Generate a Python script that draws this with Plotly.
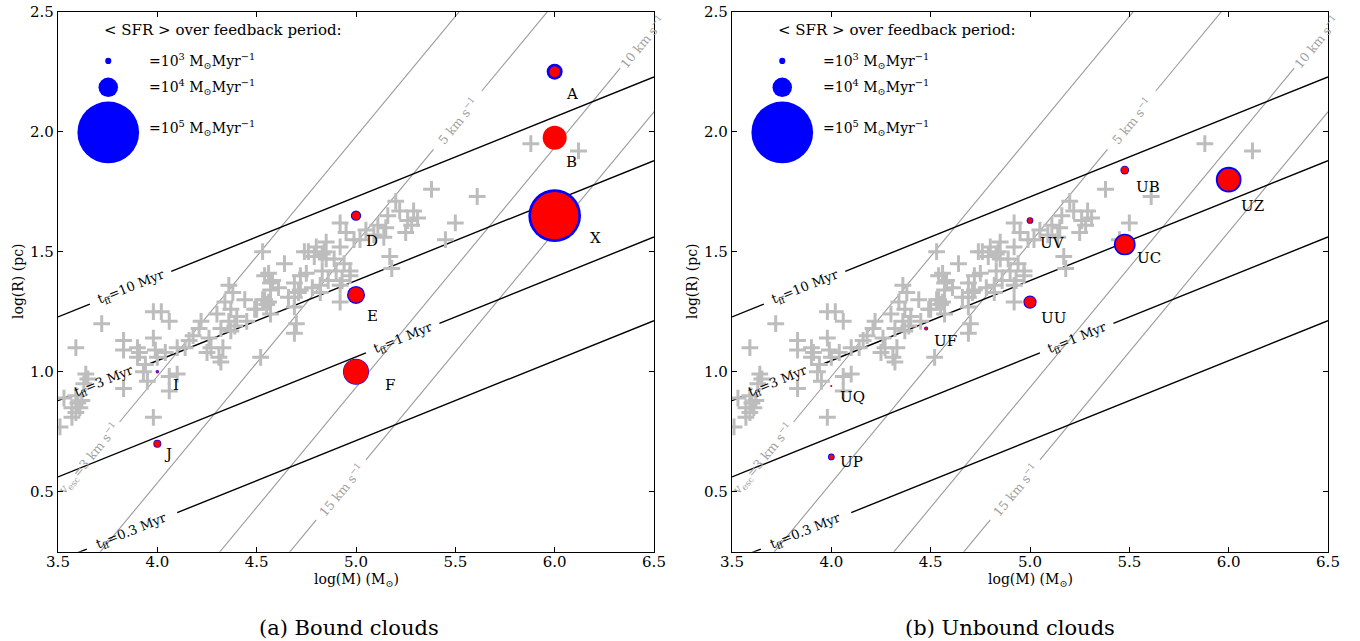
import numpy as np
import plotly.graph_objects as go

# observed clouds (grey crosses), same in both panels
cross_logm = [3.53, 3.57, 3.59, 3.60, 3.62, 3.59, 3.61, 3.57, 3.64, 3.65, 3.63, 3.59, 3.72, 3.51,
              3.83, 3.83, 3.90, 3.91, 3.90, 3.98, 4.02, 4.06, 3.98, 3.99, 4.00, 4.04, 3.94, 3.93,
              3.95, 4.06, 4.10, 4.06, 3.83, 3.98, 4.14, 4.10, 4.16, 4.18, 4.21, 4.22, 4.26, 4.27,
              4.25, 4.31, 4.33, 4.32, 4.30, 4.32, 4.34, 4.36, 4.36, 4.37, 4.37, 4.38, 4.39, 4.40,
              4.44, 4.45, 4.49, 4.54, 4.56, 4.52, 4.56, 4.57, 4.61, 4.64, 4.66, 4.69, 4.72, 4.69,
              4.70, 4.53, 4.72, 4.71, 4.78, 4.75, 4.54, 4.58, 4.57, 4.53, 4.55, 4.50, 4.57, 4.69,
              4.82, 4.76, 4.80, 4.84, 4.79, 4.85, 4.94, 4.97, 4.90, 4.93, 4.82, 4.92, 4.95, 4.99,
              4.92, 4.85, 4.89, 4.97, 4.86, 4.92, 4.69, 4.83, 4.74, 4.83, 4.92, 5.02, 5.05, 5.09,
              5.11, 5.14, 5.15, 5.16, 5.20, 5.22, 5.25, 5.28, 5.29, 5.31, 5.26, 5.17, 5.18, 5.38,
              5.61, 5.50, 5.45, 5.88, 6.12]
cross_logr = [0.89, 0.85, 0.90, 0.87, 0.88, 0.83, 0.85, 0.81, 0.99, 0.97, 0.95, 1.10, 1.20, 0.77,
              1.13, 1.09, 1.10, 1.08, 1.06, 1.25, 1.25, 1.21, 1.14, 1.09, 1.06, 1.08, 1.03, 1.00,
              0.96, 0.98, 0.99, 0.92, 0.93, 0.81, 1.10, 1.10, 1.13, 1.15, 1.18, 1.21, 1.14, 1.10,
              1.08, 1.06, 1.10, 1.04, 1.24, 1.18, 1.29, 1.21, 1.36, 1.17, 1.26, 1.33, 1.19, 1.23,
              1.30, 1.21, 1.26, 1.30, 1.29, 1.06, 1.41, 1.37, 1.35, 1.45, 1.31, 1.31, 1.40, 1.16,
              1.20, 1.50, 1.34, 1.33, 1.35, 1.41, 1.40, 1.38, 1.34, 1.30, 1.28, 1.26, 1.24, 1.27,
              1.33, 1.50, 1.52, 1.50, 1.48, 1.47, 1.45, 1.42, 1.42, 1.38, 1.36, 1.62, 1.58, 1.55,
              1.29, 1.54, 1.47, 1.40, 1.38, 1.36, 1.37, 1.49, 1.50, 1.42, 1.52, 1.55, 1.59, 1.57,
              1.61, 1.56, 1.60, 1.65, 1.71, 1.67, 1.58, 1.61, 1.67, 1.64, 1.63, 1.48, 1.43, 1.76,
              1.73, 1.62, 1.55, 1.95, 1.92]

# simulated bound clouds
bound_names = ["A", "B", "X", "D", "E", "F", "I", "J"]
bound_logm = [6.0, 6.0, 6.0, 5.0, 5.0, 5.0, 4.0, 4.0]
bound_logr = [2.25, 1.975, 1.65, 1.65, 1.32, 1.0, 1.0, 0.70]
bound_sfr_blue = [6700, 12700, 73000, 2800, 8500, 17800, 320, 1700]
bound_sfr_red = [3000, 15200, 58800, 1800, 6300, 16400, 160, 1100]

# simulated unbound clouds
unbound_names = ["UB", "UZ", "UV", "UC", "UU", "UF", "UQ", "UP"]
unbound_logm = [5.477, 6.0, 5.0, 5.477, 5.0, 4.477, 4.0, 4.0]
unbound_logr = [1.84, 1.80, 1.63, 1.53, 1.29, 1.18, 0.94, 0.645]
unbound_sfr_blue = [2000, 17400, 1180, 12400, 4650, 420, 60, 1180]
unbound_sfr_red = [1300, 12400, 660, 9000, 3360, 240, 105, 660]

legend_sfr = [1e3, 1e4, 1e5]
legend_labels = ["=10<sup>3</sup> M<sub>⊙</sub>Myr<sup>−1</sup>",
                 "=10<sup>4</sup> M<sub>⊙</sub>Myr<sup>−1</sup>",
                 "=10<sup>5</sup> M<sub>⊙</sub>Myr<sup>−1</sup>"]

tff_myr = [10, 3, 1, 0.3]
vesc_kms = [3, 5, 10, 15]

G_MYR = 4.50e-3   # pc^3 Msun^-1 Myr^-2
G_KMS = 4.301e-3  # pc (km/s)^2 Msun^-1

# label placement (layout only)
tff_label_x = [3.868, 3.735, 5.237, 3.87]
tff_gaps = [(3.66, 4.07), (3.555, 3.93), (5.05, 5.42), (3.645, 4.10)]
vesc_label_x = [3.655, 5.51, 6.44, 4.925]
vesc_gaps = [(3.3, 3.81), (5.39, 5.633), (6.33, 7.0), (4.80, 5.05)]
bound_offsets = [(17, 22), (17, 24), (41, 22), (16, 25), (16, 21), (34, 13), (19, 13), (11, 10)]
unbound_offsets = [(23, 17), (24, 26), (22, 22), (24, 13), (23, 16), (19, 12), (21, 11), (20, 5)]

SERIF = "DejaVu Serif"
W, H = 1360, 641
K_SIZE = 0.195  # marker diameter (px) per sqrt(SFR)


def px2paper(px, py):
    return px / W, 1 - py / H


def tff_logr(logm, t):
    return (np.asarray(logm) + 2 * np.log10(t) + np.log10(32 * G_MYR / (3 * np.pi))) / 3.0


def vesc_logr(logm, v):
    return np.asarray(logm) + np.log10(2 * G_KMS) - 2 * np.log10(v)


def sizes(sfr):
    return [K_SIZE * np.sqrt(s) for s in sfr]


def gapped(x0, x1, gap):
    xs = []
    if gap[0] > x0:
        xs += [x0, gap[0], None]
    if gap[1] < x1:
        xs += [gap[1], x1]
    return xs


def eval_line(xs, f, p):
    return [None if x is None else float(f(x, p)) for x in xs]


fig = go.Figure()
annotations = []

# pixel aspect -> text angles
px_x = (654 - 58) / 3.0
px_y = (551.7 - 11.7) / 2.25
ang_tff = np.degrees(np.arctan(px_y / (3 * px_x)))
ang_v = np.degrees(np.arctan(px_y / px_x))

panels = [
    ("x", "y", bound_names, bound_logm, bound_logr, bound_sfr_blue, bound_sfr_red, bound_offsets),
    ("x2", "y2", unbound_names, unbound_logm, unbound_logr, unbound_sfr_blue, unbound_sfr_red, unbound_offsets),
]

for xa, ya, names, lm, lr, sb, sr, offs in panels:
    # escape velocity lines
    for v, lx, gap in zip(vesc_kms, vesc_label_x, vesc_gaps):
        xs = gapped(3.0, 7.0, gap)
        fig.add_trace(go.Scatter(x=xs, y=eval_line(xs, vesc_logr, v), mode="lines",
                                 line=dict(color="#9a9a9a", width=1.1), xaxis=xa, yaxis=ya,
                                 showlegend=False, hoverinfo="skip"))
        txt = f"{v} km s<sup>−1</sup>"
        if v == vesc_kms[0]:
            txt = "v<sub>esc</sub>=" + txt
        annotations.append(dict(x=lx, y=float(vesc_logr(lx, v)), xref=xa, yref=ya, text=txt,
                                showarrow=False, textangle=-ang_v,
                                font=dict(family=SERIF, size=12.5, color="#a0a0a0")))
    # free-fall time lines
    for t, lx, gap in zip(tff_myr, tff_label_x, tff_gaps):
        xs = gapped(3.5, 6.5, gap)
        fig.add_trace(go.Scatter(x=xs, y=eval_line(xs, tff_logr, t), mode="lines",
                                 line=dict(color="black", width=1.4), xaxis=xa, yaxis=ya,
                                 showlegend=False, hoverinfo="skip"))
        annotations.append(dict(x=lx, y=float(tff_logr(lx, t)), xref=xa, yref=ya,
                                text=f"t<sub>ff</sub>={t:g} Myr", showarrow=False,
                                textangle=-ang_tff,
                                font=dict(family=SERIF, size=13, color="black")))

    fig.add_trace(go.Scatter(x=cross_logm, y=cross_logr, mode="markers", xaxis=xa, yaxis=ya,
                             marker=dict(symbol="cross-thin", size=12, opacity=1,
                                         line=dict(color="#bdbdbd", width=3)),
                             showlegend=False, hoverinfo="skip"))

    fig.add_trace(go.Scatter(x=lm, y=lr, mode="markers", xaxis=xa, yaxis=ya,
                             marker=dict(color="#0000ff", size=sizes(sb), opacity=1,
                                         line=dict(width=0)),
                             showlegend=False))
    fig.add_trace(go.Scatter(x=lm, y=lr, mode="markers", xaxis=xa, yaxis=ya,
                             marker=dict(color="#ff0000", size=sizes(sr), opacity=1,
                                         line=dict(width=0)),
                             showlegend=False))
    for name, x, y, (dx, dy) in zip(names, lm, lr, offs):
        annotations.append(dict(x=x, y=y, xref=xa, yref=ya, text=name, showarrow=False,
                                xshift=dx, yshift=-dy,
                                font=dict(family=SERIF, size=15, color="black")))

    # size key
    key_y = [2.295, 2.185, 1.997]
    text_y = [2.295, 2.186, 2.015]
    fig.add_trace(go.Scatter(x=[3.753] * 3, y=key_y, mode="markers", xaxis=xa, yaxis=ya,
                             marker=dict(color="#0000ff", size=sizes(legend_sfr), opacity=1,
                                         line=dict(width=0)),
                             showlegend=False, hoverinfo="skip"))
    for lab, ty in zip(legend_labels, text_y):
        annotations.append(dict(x=3.948, y=ty, xref=xa, yref=ya, text=lab, showarrow=False,
                                xanchor="left", font=dict(family=SERIF, size=14, color="black")))
    annotations.append(dict(x=3.722, y=2.424, xref=xa, yref=ya,
                            text="&lt; SFR &gt; over feedback period:", showarrow=False,
                            xanchor="left", font=dict(family=SERIF, size=15, color="black")))

# axis titles and captions
x0, y0 = px2paper(58, 551.7)
x1, y1 = px2paper(654, 11.7)
x2, _ = px2paper(732, 0)
x3, _ = px2paper(1328, 0)
ydom = [y0, y1]
xdoms = [[x0, x1], [x2, x3]]
for axc, ylab_x, cap, cap_x in zip([356, 1030], [18, 692],
                                   ["(a) Bound clouds", "(b) Unbound clouds"], [349, 1010]):
    px, py = px2paper(axc, 580)
    annotations.append(dict(x=px, y=py, xref="paper", yref="paper", xanchor="center", yanchor="middle",
                            text="log(M) (M<sub>⊙</sub>)", showarrow=False,
                            font=dict(family=SERIF, size=14, color="black")))
    px, py = px2paper(ylab_x, 281)
    annotations.append(dict(x=px, y=py, xref="paper", yref="paper", xanchor="center", yanchor="middle",
                            text="log(R) (pc)", showarrow=False, textangle=-90,
                            font=dict(family=SERIF, size=14, color="black")))
    px, py = px2paper(cap_x, 628)
    annotations.append(dict(x=px, y=py, xref="paper", yref="paper", xanchor="center", yanchor="middle",
                            text=cap, showarrow=False,
                            font=dict(family=SERIF, size=21, color="black")))

axis_style = dict(showline=True, linecolor="black", linewidth=1.3, mirror="ticks",
                  ticks="inside", ticklen=5, tickwidth=1, tickcolor="black",
                  showgrid=False, zeroline=False,
                  tickfont=dict(family=SERIF, size=15, color="black"))
x_style = dict(axis_style, ticklabelstandoff=-4)

fig.update_layout(
    width=W, height=H, margin=dict(l=0, r=0, t=0, b=0, autoexpand=False),
    paper_bgcolor="white", plot_bgcolor="white", showlegend=False,
    xaxis=dict(domain=xdoms[0], range=[3.5, 6.5], dtick=0.5, tickformat=".1f", anchor="y", **x_style),
    yaxis=dict(domain=ydom, range=[0.25, 2.5], tickvals=[0.5, 1.0, 1.5, 2.0, 2.5],
               tickformat=".1f", anchor="x", **axis_style),
    xaxis2=dict(domain=xdoms[1], range=[3.5, 6.5], dtick=0.5, tickformat=".1f", anchor="y2", **x_style),
    yaxis2=dict(domain=ydom, range=[0.25, 2.5], tickvals=[0.5, 1.0, 1.5, 2.0, 2.5],
                tickformat=".1f", anchor="x2", **axis_style),
    annotations=annotations,
)

# the page body has a default margin; remove it so the figure sits at the window origin
fig.write_html("out.html", config={"displayModeBar": False},
               post_script="document.body.style.margin='0px';")
